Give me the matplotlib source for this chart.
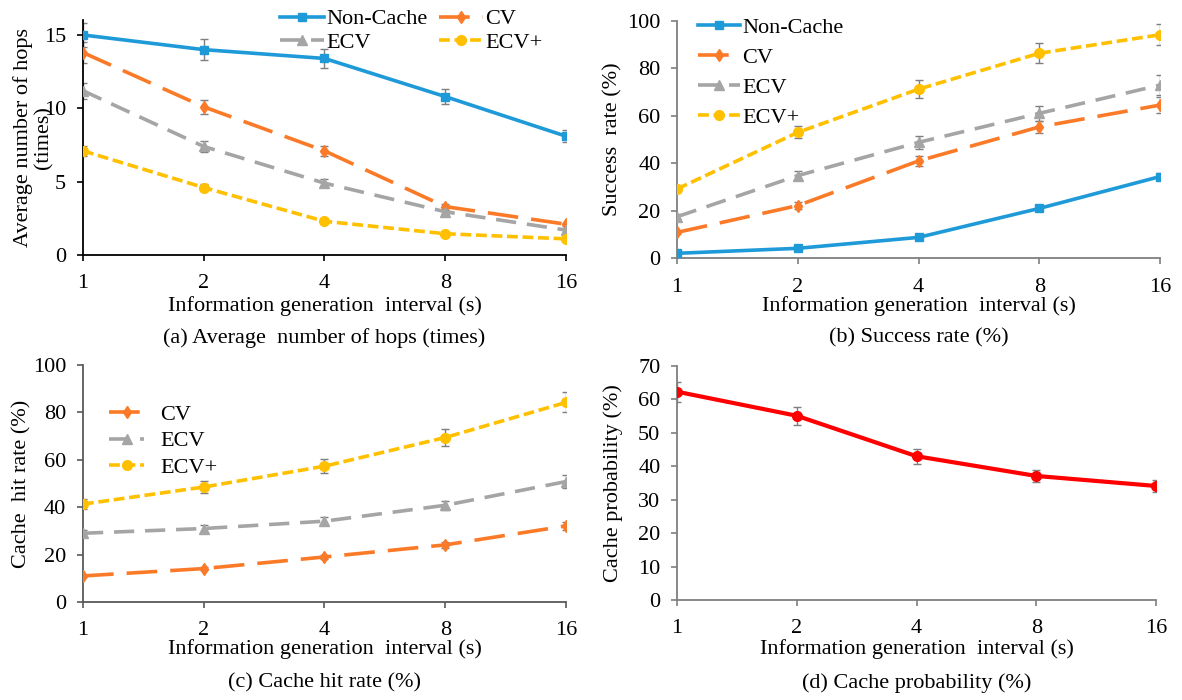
import matplotlib
matplotlib.use('Agg')
import matplotlib.pyplot as plt
import numpy as np

plt.rcParams['font.family'] = ['Liberation Serif', 'DejaVu Serif']
plt.rcParams['font.size'] = 16

# data
intervals = ['1', '2', '4', '8', '16']

hops_noncache = [15.0, 14.0, 13.4, 10.8, 8.1]
hops_cv = [13.8, 10.1, 7.1, 3.3, 2.1]
hops_ecv = [11.2, 7.4, 4.9, 2.95, 1.7]
hops_ecvp = [7.1, 4.6, 2.3, 1.45, 1.1]
hops_noncache_err = [0.8, 0.7, 0.65, 0.5, 0.4]
hops_cv_err = [0.7, 0.5, 0.35, 0.2, 0.1]
hops_ecv_err = [0.55, 0.35, 0.25, 0.15, 0.1]
hops_ecvp_err = [0.35, 0.25, 0.12, 0.07, 0.05]

succ_noncache = [2.1, 4.2, 8.8, 21.0, 34.4]
succ_cv = [10.9, 22.2, 41.0, 55.3, 64.5]
succ_ecv = [17.5, 34.8, 48.8, 61.0, 72.9]
succ_ecvp = [29.2, 53.0, 71.2, 86.3, 94.1]
succ_noncache_err = [0.5, 0.5, 0.6, 1.0, 1.5]
succ_cv_err = [0.8, 1.4, 2.2, 2.7, 3.2]
succ_ecv_err = [1.0, 1.9, 2.6, 3.2, 4.3]
succ_ecvp_err = [1.5, 2.5, 3.9, 4.3, 4.4]

hit_cv = [11.0, 14.1, 19.0, 24.1, 32.1]
hit_ecv = [29.0, 31.0, 34.1, 40.8, 50.8]
hit_ecvp = [41.3, 48.5, 57.3, 69.4, 84.2]
hit_cv_err = [0.5, 0.7, 0.9, 1.2, 1.6]
hit_ecv_err = [1.4, 1.6, 1.7, 2.0, 2.6]
hit_ecvp_err = [2.0, 2.5, 3.0, 3.4, 4.2]

prob = [62.3, 55.1, 43.0, 37.1, 34.1]
prob_err = [3.0, 2.7, 2.3, 1.9, 1.7]

BLUE = '#1f9ad8'
ORANGE = '#fb7a28'
GRAY = '#a5a5a5'
YELLOW = '#ffc000'
RED = '#ff0000'
ERR = '#7f7f7f'

styles = {
    'Non-Cache': dict(color=BLUE, marker='s', ms=6, lw=2.6, ls='-'),
    'CV': dict(color=ORANGE, marker='d', ms=6.5, lw=2.6, dashes=(8.5, 3.6)),
    'ECV': dict(color=GRAY, marker='^', ms=6.5, lw=2.6, dashes=(5.6, 3.0)),
    'ECV+': dict(color=YELLOW, marker='o', ms=7, lw=2.6, dashes=(3.0, 1.3)),
}

x = np.arange(len(intervals))

fig = plt.figure(figsize=(11.82, 7.0), dpi=100)


def draw(ax, name, vals, err):
    ax.errorbar(x, vals, yerr=err, fmt='none', ecolor=ERR, elinewidth=1,
                capsize=3, capthick=1, zorder=2)
    st = dict(styles[name])
    ax.plot(x, vals, label=name, zorder=3, **st)


def setup(ax, ymax, yticks, spine_col, ylabel, ylx, xly, caption, capy):
    ax.set_xlim(0, 4)
    ax.set_ylim(0, ymax)
    ax.set_yticks(yticks)
    ax.set_xticks(x)
    ax.set_xticklabels(intervals)
    for s in ['top', 'right']:
        ax.spines[s].set_visible(False)
    for s in ['left', 'bottom']:
        ax.spines[s].set_color(spine_col)
        ax.spines[s].set_linewidth(1.3)
    ax.tick_params(axis='both', direction='out', length=4, width=1.2,
                   color=spine_col, labelsize=16)
    ax.tick_params(axis='x', pad=10)
    ax.tick_params(axis='y', pad=8)
    ax.set_ylabel(ylabel, fontsize=16, va='center', linespacing=1.05)
    ax.yaxis.set_label_coords(ylx, 0.5)
    ax.set_xlabel('Information generation  interval (s)', fontsize=16, va='center')
    ax.xaxis.set_label_coords(0.5, xly)
    pos = ax.get_position()
    fig.text(pos.x0 + pos.width / 2, capy, caption, ha='center', va='center', fontsize=16)


# (a) average number of hops
ax1 = fig.add_axes([0.0702, 0.6357, 0.4086, 0.3353])
draw(ax1, 'Non-Cache', hops_noncache, hops_noncache_err)
draw(ax1, 'CV', hops_cv, hops_cv_err)
draw(ax1, 'ECV', hops_ecv, hops_ecv_err)
draw(ax1, 'ECV+', hops_ecvp, hops_ecvp_err)
setup(ax1, 16, [0, 5, 10, 15], 'black', 'Average number of hops\n(times)',
      -0.103, -0.218, '(a) Average  number of hops (times)', 1 - 338 / 700)
h, l = ax1.get_legend_handles_labels()
order = [0, 2, 1, 3]
ax1.legend([h[i] for i in order], [l[i] for i in order], ncol=2, frameon=False,
           loc='center', bbox_to_anchor=(411 / 1182, 1 - 31 / 700),
           bbox_transform=fig.transFigure, fontsize=16, handlelength=2.0,
           handletextpad=0.1, columnspacing=0.5, labelspacing=0.15, borderpad=0)

# (b) success rate
ax2 = fig.add_axes([0.5728, 0.631, 0.4086, 0.3394])
draw(ax2, 'Non-Cache', succ_noncache, succ_noncache_err)
draw(ax2, 'CV', succ_cv, succ_cv_err)
draw(ax2, 'ECV', succ_ecv, succ_ecv_err)
draw(ax2, 'ECV+', succ_ecvp, succ_ecvp_err)
setup(ax2, 100, [0, 20, 40, 60, 80, 100], '#7f7f7f', 'Success  rate (%)',
      -0.1325, -0.2, '(b) Success rate (%)', 1 - 338 / 700)
ax2.legend(frameon=False, loc='center', bbox_to_anchor=(771 / 1182, 1 - 72.5 / 700),
           bbox_transform=fig.transFigure, fontsize=16, handlelength=1.9,
           handletextpad=0.1, labelspacing=0.42, borderpad=0)

# (c) cache hit rate
ax3 = fig.add_axes([0.0702, 0.14, 0.4086, 0.3386])
draw(ax3, 'CV', hit_cv, hit_cv_err)
draw(ax3, 'ECV', hit_ecv, hit_ecv_err)
draw(ax3, 'ECV+', hit_ecvp, hit_ecvp_err)
setup(ax3, 100, [0, 20, 40, 60, 80, 100], '#595959', 'Cache  hit rate (%)',
      -0.126, -0.197, '(c) Cache hit rate (%)', 1 - 683 / 700)
ax3.legend(frameon=False, loc='center', bbox_to_anchor=(163 / 1182, 1 - 441 / 700),
           bbox_transform=fig.transFigure, fontsize=16, handlelength=1.6,
           handletextpad=0.7, labelspacing=0.28, borderpad=0)

# (d) cache probability
ax4 = fig.add_axes([0.5728, 0.1429, 0.4052, 0.3343])
ax4.errorbar(x, prob, yerr=prob_err, fmt='none', ecolor=ERR, elinewidth=1,
             capsize=3, capthick=1, zorder=2)
ax4.plot(x, prob, color=RED, marker='o', ms=7, lw=3, zorder=3)
setup(ax4, 70, [0, 10, 20, 30, 40, 50, 60, 70], '#7f7f7f', 'Cache probability (%)',
      -0.1336, -0.208, '(d) Cache probability (%)', 1 - 683 / 700)

plt.savefig('out.png', dpi=100)
